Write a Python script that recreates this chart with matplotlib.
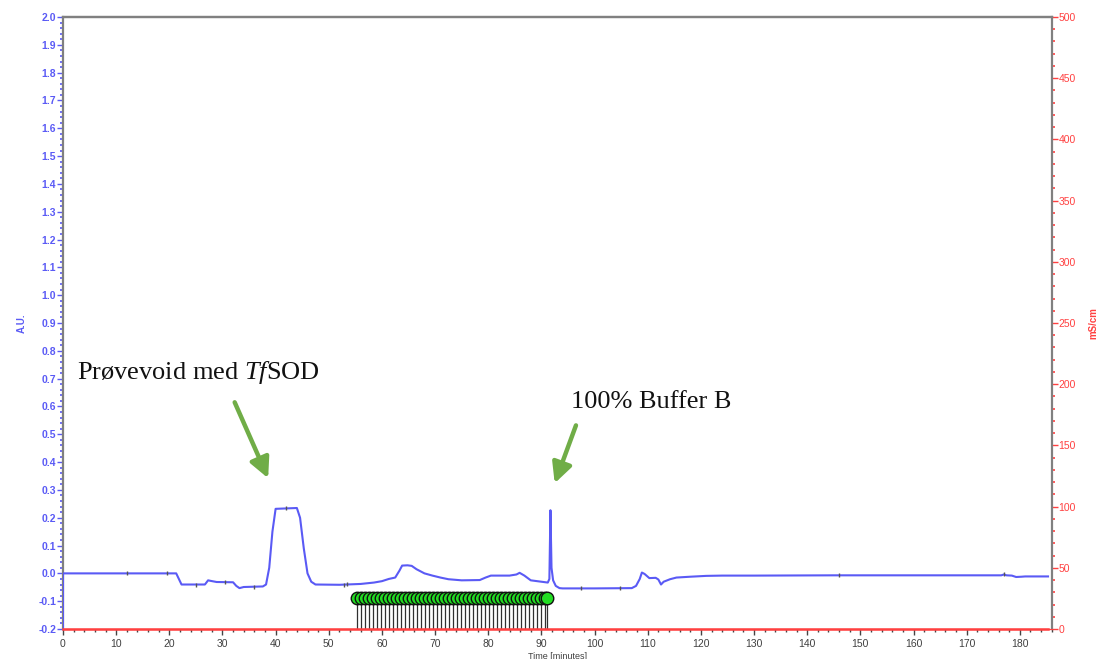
import matplotlib
matplotlib.use("Agg")
import matplotlib.pyplot as plt
from matplotlib.ticker import MultipleLocator
import numpy as np

# UV trace (A.U.) vs elution time (minutes)
time_min = [0, 0.01, 21.3, 21.8, 22.3, 26.7, 27.3, 27.8, 28.9, 32.0, 32.6, 33.2, 34.0,
            37.6, 38.2, 38.8, 39.4, 40.0, 44.0, 44.6, 45.3, 46.0, 46.7, 47.5, 52.0,
            56.0, 58.5, 60.0, 61.3, 62.5, 63.3, 63.8, 64.8, 65.6, 66.5, 68.0, 69.5,
            71.0, 72.5, 75.0, 78.4, 79.5, 80.5, 84.0, 85.3, 85.9, 86.8, 88.0, 90.0,
            91.2, 91.5, 91.7, 91.9, 92.2, 92.7, 93.4, 94.0, 100.0, 107.0, 107.8,
            108.5, 108.9, 109.4, 110.3, 111.5, 112.0, 112.5, 113.0, 114.2, 115.4,
            118.0, 121.0, 124.0, 130.0, 145.0, 176.5, 177.0, 177.5, 178.5, 179.3,
            180.3, 181.0, 185.3]
uv_au = [-0.2, 0.0, 0.0, -0.02, -0.04, -0.04, -0.025, -0.027, -0.031, -0.032, -0.045,
         -0.053, -0.049, -0.047, -0.04, 0.02, 0.15, 0.232, 0.235, 0.20, 0.09, 0.0,
         -0.03, -0.04, -0.041, -0.038, -0.033, -0.028, -0.02, -0.015, 0.01, 0.028,
         0.029, 0.027, 0.015, 0.0, -0.008, -0.015, -0.021, -0.025, -0.024, -0.015,
         -0.008, -0.008, -0.004, 0.002, -0.008, -0.025, -0.03, -0.033, -0.02, 0.227,
         0.02, -0.025, -0.045, -0.053, -0.054, -0.054, -0.053, -0.045, -0.02, 0.003,
         -0.002, -0.017, -0.016, -0.022, -0.04, -0.03, -0.021, -0.015, -0.012, -0.009,
         -0.008, -0.008, -0.007, -0.007, -0.004, -0.007, -0.008, -0.013, -0.012,
         -0.011, -0.011]

# conductivity (mS/cm)
cond_time = [0, 185.3]
cond_ms = [0, 0]

# logbook events marked on the UV trace
event_time = [12, 19.5, 25, 30.5, 36, 42, 52.8, 53.4, 97.5, 104.8, 146, 177]

# fraction collector marks
fraction_time = [55.4, 56.1, 56.9, 57.6, 58.4, 59.1, 59.9, 60.6, 61.4, 62.1, 62.9, 63.6,
                 64.4, 65.1, 65.9, 66.6, 67.4, 68.1, 68.9, 69.6, 70.4, 71.1, 71.9, 72.6,
                 73.4, 74.1, 74.9, 75.6, 76.4, 77.1, 77.9, 78.6, 79.4, 80.1, 80.9, 81.6,
                 82.4, 83.1, 83.9, 84.6, 85.4, 86.1, 86.9, 87.6, 88.4, 89.1, 89.9, 90.6,
                 91.1]
fraction_level = -0.09

blue = "#5a5af5"
red = "#ff4040"
arrow_green = "#70ad47"

plt.rcParams['font.family'] = ['Liberation Sans', 'DejaVu Sans']
plt.rcParams['mathtext.fontset'] = 'custom'
plt.rcParams['mathtext.it'] = 'Liberation Serif:italic'
plt.rcParams['mathtext.rm'] = 'Liberation Serif'

fig = plt.figure(figsize=(10.99, 6.59), dpi=100)
ax = fig.add_axes([0.0573, 0.0455, 0.8997, 0.9287])
ax2 = ax.twinx()

# fractions: stems down to the axis, green circles on top
for ft in fraction_time:
    ax.plot([ft, ft], [-0.2, fraction_level], color="#303030", lw=0.9, zorder=2)
ax.plot(fraction_time, [fraction_level] * len(fraction_time), 'o', ms=9,
        mfc="#22dd22", mec="#111111", mew=1.0, zorder=3)

ax.plot(time_min, uv_au, color=blue, lw=1.5, zorder=4)
ax.plot(event_time, np.interp(event_time, time_min, uv_au), '|', color="#555555",
        ms=3, mew=1.0, zorder=5)

ax2.plot(cond_time, cond_ms, color=red, lw=1.8, clip_on=False, zorder=4)

ax.set_xlim(0, 186)
ax.set_ylim(-0.2, 2.0)
ax2.set_ylim(0, 500)

ax.xaxis.set_major_locator(MultipleLocator(10))
ax.xaxis.set_minor_locator(MultipleLocator(2))
ax.yaxis.set_major_locator(MultipleLocator(0.1))
ax.yaxis.set_minor_locator(MultipleLocator(0.02))
ax2.yaxis.set_major_locator(MultipleLocator(50))
ax2.yaxis.set_minor_locator(MultipleLocator(10))

ax.tick_params(axis='x', which='major', length=4, width=1, color="#444444",
               labelsize=7.5, labelcolor="#404040", pad=3)
ax.tick_params(axis='x', which='minor', length=2, width=1, color="#444444")
ax.tick_params(axis='y', which='major', length=4, width=1, color=blue,
               labelsize=7.5, labelcolor=blue, pad=1)
ax.tick_params(axis='y', which='minor', length=2, width=1.2, color=blue)
for lbl in ax.get_yticklabels():
    lbl.set_fontweight('bold')
ax.yaxis.set_major_formatter(plt.FuncFormatter(lambda v, p: f"{v:.1f}"))

ax2.tick_params(axis='y', which='major', length=4, width=1, color=red,
                labelsize=7.5, labelcolor=red, pad=1)
ax2.tick_params(axis='y', which='minor', length=2, width=1.2, color=red)

for a in (ax, ax2):
    for side in ('top', 'right', 'left'):
        a.spines[side].set_color("#808080")
        a.spines[side].set_linewidth(1.6)
    a.spines['bottom'].set_color(red)
ax2.spines['left'].set_visible(False)
ax.spines['right'].set_visible(False)

ax.set_xlabel("Time [minutes]", fontsize=6.5, color="#404040", labelpad=2)
ax.set_ylabel("A.U.", fontsize=7, color=blue, fontweight='bold', labelpad=8)
ax2.set_ylabel("mS/cm", fontsize=7, color=red, fontweight='bold')
ax2.yaxis.set_label_coords(1.037, 0.5)

# annotations
ax.text(2.6, 0.723, "Prøvevoid med $\\mathit{Tf}$SOD", fontsize=19,
        family='Liberation Serif', va='center', ha='left', color="#111111")
ax.text(95.5, 0.615, "100% Buffer B", fontsize=19, family='Liberation Serif',
        va='center', ha='left', color="#111111")
arrow_style = dict(arrowstyle="-|>,head_width=0.6,head_length=1.2",
                   color=arrow_green, lw=3.2, shrinkA=0, shrinkB=0)
ax.annotate("", xy=(38.6, 0.342), xytext=(32.3, 0.615), arrowprops=arrow_style)
ax.annotate("", xy=(92.5, 0.324), xytext=(96.5, 0.532), arrowprops=arrow_style)

fig.savefig("out.png", dpi=100)
